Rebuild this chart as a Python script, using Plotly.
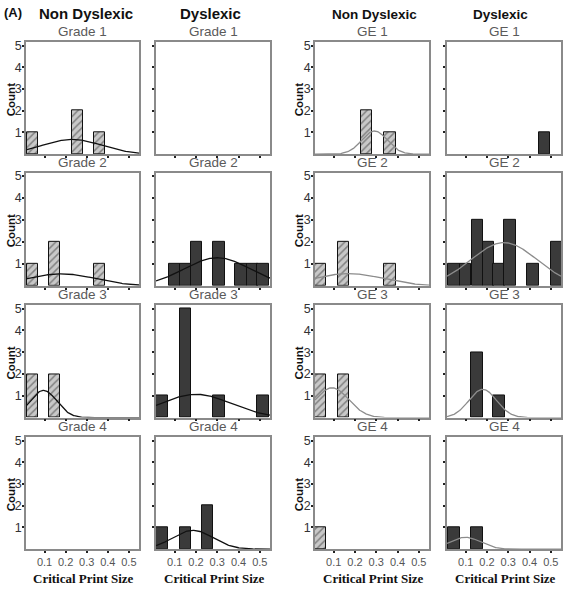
import numpy as np
import plotly.graph_objects as go

# ---------------- data ----------------
group_headers = ["Non Dyslexic", "Dyslexic", "Non Dyslexic", "Dyslexic"]
grade_titles = ["Grade 1", "Grade 2", "Grade 3", "Grade 4"]
ge_titles = ["GE 1", "GE 2", "GE 3", "GE 4"]
x_tick_values = [0.1, 0.2, 0.3, 0.4, 0.5]
x_tick_labels = ["0.1", "0.2", "0.3", "0.4", "0.5"]
y_tick_values = [1, 2, 3, 4, 5]
y_tick_labels = ["1", "2", "3", "4", "5"]
x_axis_title = "Critical Print Size"
y_axis_title = "Count"

# Bin centres and counts: one list per grade / GE level (rows 1-4)
grade_nondys_bins = [[0.043, 0.255, 0.36], [0.043, 0.148, 0.36], [0.043, 0.148], []]
grade_nondys_counts = [[1, 2, 1], [1, 2, 1], [2, 2], []]

grade_dys_bins = [[], [0.100, 0.151, 0.202, 0.309, 0.412, 0.465, 0.516],
                  [0.041, 0.150, 0.309, 0.515], [0.041, 0.150, 0.254]]
grade_dys_counts = [[], [1, 1, 2, 2, 1, 1, 1], [1, 5, 1, 1], [1, 1, 2]]

ge_nondys_bins = [[0.255, 0.365], [0.036, 0.147, 0.365], [0.036, 0.147], [0.036]]
ge_nondys_counts = [[2, 1], [1, 2, 1], [2, 2], [1]]

ge_dys_bins = [[0.47], [0.044, 0.100, 0.155, 0.207, 0.256, 0.309, 0.416, 0.528],
               [0.152, 0.256], [0.044, 0.152]]
ge_dys_counts = [[1], [1, 1, 3, 2, 1, 3, 1, 2], [3, 1], [1, 1]]

bin_width = 0.054

# Fitted normal curves: (mean, sd, peak count); None = no curve drawn
grade_nondys_fit = [(0.23, 0.14, 0.68), (0.18, 0.16, 0.55), (0.095, 0.063, 1.25), None]
grade_dys_fit = [None, (0.30, 0.155, 1.28), (0.20, 0.165, 1.07), (0.185, 0.095, 0.87)]
ge_nondys_fit = [(0.292, 0.06, 1.07), (0.17, 0.16, 0.56), (0.092, 0.078, 1.37), None]
ge_dys_fit = [None, (0.28, 0.155, 1.97), (0.18, 0.065, 1.30), (0.098, 0.072, 0.55)]

# ---------------- layout geometry (pixel positions in the 567x591 window) ----------------
W, H = 567, 591
col_px = [(26, 139), (156, 270), (315, 429), (447, 561)]
row_px = [(39.5, 152), (170.7, 284.3), (304, 416.7), (436.5, 549)]
x_range = [0.012, 0.548]
y_range = [0, 5.15]

SANS = "Liberation Sans, Arial, sans-serif"
SERIF = "Liberation Serif, Times New Roman, serif"

columns = [
    (grade_nondys_bins, grade_nondys_counts, grade_nondys_fit, "hatch", "#111111", grade_titles),
    (grade_dys_bins, grade_dys_counts, grade_dys_fit, "dark", "#111111", grade_titles),
    (ge_nondys_bins, ge_nondys_counts, ge_nondys_fit, "hatch", "#8c8c8c", ge_titles),
    (ge_dys_bins, ge_dys_counts, ge_dys_fit, "dark", "#8c8c8c", ge_titles),
]

fig = go.Figure()
annotations = []


def px_x(p):
    return p / W


def px_y(p):
    return 1 - p / H


for r in range(4):
    for c in range(4):
        k = r * 4 + c + 1
        xa = "x" if k == 1 else f"x{k}"
        ya = "y" if k == 1 else f"y{k}"
        bins, counts, fits, style, curve_color, titles = columns[c]
        xb, yb, fit = bins[r], counts[r], fits[r]

        curve = None
        if fit is not None:
            m, s, pk = fit
            xs = np.linspace(x_range[0], x_range[1], 200)
            ys = pk * np.exp(-0.5 * ((xs - m) / s) ** 2)
            curve = go.Scatter(x=xs, y=ys, mode="lines", xaxis=xa, yaxis=ya,
                               line=dict(color=curve_color, width=1.3),
                               showlegend=False, hoverinfo="skip")

        if style == "hatch":
            marker = dict(color="#c4c4c4",
                          pattern=dict(shape="/", fgcolor="#3a3a3a", bgcolor="#c8c8c8",
                                       size=5, solidity=0.3),
                          line=dict(color="#111111", width=1))
        else:
            marker = dict(color="#3a3a3a", line=dict(color="#111111", width=1))
        bars = go.Bar(x=xb, y=yb, width=bin_width, xaxis=xa, yaxis=ya, marker=marker,
                      showlegend=False, hoverinfo="skip")

        if c == 3 and curve is not None:
            fig.add_trace(curve)
            fig.add_trace(bars)
        else:
            fig.add_trace(bars)
            if curve is not None:
                fig.add_trace(curve)

        x0, x1 = col_px[c]
        y0, y1 = row_px[r]
        xkey = "xaxis" if k == 1 else f"xaxis{k}"
        ykey = "yaxis" if k == 1 else f"yaxis{k}"
        fig.layout[xkey] = dict(
            domain=[px_x(x0), px_x(x1)], anchor=ya, range=x_range,
            tickvals=x_tick_values, ticktext=x_tick_labels,
            showticklabels=(r == 3), ticks="outside", ticklen=2, tickwidth=2,
            tickcolor="#222222", showgrid=False, zeroline=False,
            showline=True, mirror=True, linecolor="#8a8a8a", linewidth=1.5,
            tickfont=dict(family=SANS, size=11, color="#555555"),
            fixedrange=True,
        )
        fig.layout[ykey] = dict(
            domain=[px_y(y1), px_y(y0)], anchor=xa, range=y_range,
            tickvals=y_tick_values, ticktext=y_tick_labels,
            showticklabels=(c in (0, 2)), ticks="outside", ticklen=2, tickwidth=2,
            tickcolor="#222222", showgrid=False, zeroline=False,
            showline=True, mirror=True, linecolor="#8a8a8a", linewidth=1.5,
            tickfont=dict(family=SANS, size=12.5, color="#333333"),
            ticklabelstandoff=-2,
            fixedrange=True,
        )

        # panel title
        annotations.append(dict(
            text=titles[r], x=px_x((x0 + x1) / 2), y=px_y(y0 - 1),
            xref="paper", yref="paper", xanchor="center", yanchor="bottom",
            showarrow=False, font=dict(family=SANS, size=13.5, color="#5a5a5a")))

        if c in (0, 2):
            cx = 11 if c == 0 else x0 - 16
            annotations.append(dict(
                text=f"<b>{y_axis_title}</b>", x=px_x(cx),
                y=px_y((y0 + y1) / 2 + 2), xref="paper", yref="paper",
                xanchor="center", yanchor="middle", textangle=-90, showarrow=False,
                font=dict(family=SANS, size=11.5, color="#111111")))

        if r == 3:
            annotations.append(dict(
                text=f"<b>{x_axis_title}</b>", x=px_x((x0 + x1) / 2 + 1), y=px_y(578),
                xref="paper", yref="paper", xanchor="center", yanchor="middle",
                showarrow=False, font=dict(family=SERIF, size=13, color="#111111")))

# top headers
annotations.append(dict(text="<b>(A)</b>", x=px_x(2), y=px_y(10), xref="paper", yref="paper",
                        xanchor="left", yanchor="middle", showarrow=False,
                        font=dict(family=SANS, size=13, color="#111111")))
header_centers = [(86, 11, 15), (210, 11, 15), (374, 12, 13.5), (500, 12, 13.5)]
for (cx, cy, fs), txt in zip(header_centers, group_headers):
    annotations.append(dict(text=f"<b>{txt}</b>", x=px_x(cx), y=px_y(cy),
                            xref="paper", yref="paper", xanchor="center", yanchor="middle",
                            showarrow=False, font=dict(family=SANS, size=fs, color="#111111")))

fig.update_layout(
    width=W, height=H, margin=dict(l=0, r=0, t=0, b=0),
    paper_bgcolor="white", plot_bgcolor="white",
    bargap=0, barmode="overlay", annotations=annotations,
)

fig.write_html(
    "out.html",
    config={"displayModeBar": False},
    post_script="document.body.style.margin='0';document.body.style.overflow='hidden';",
)
